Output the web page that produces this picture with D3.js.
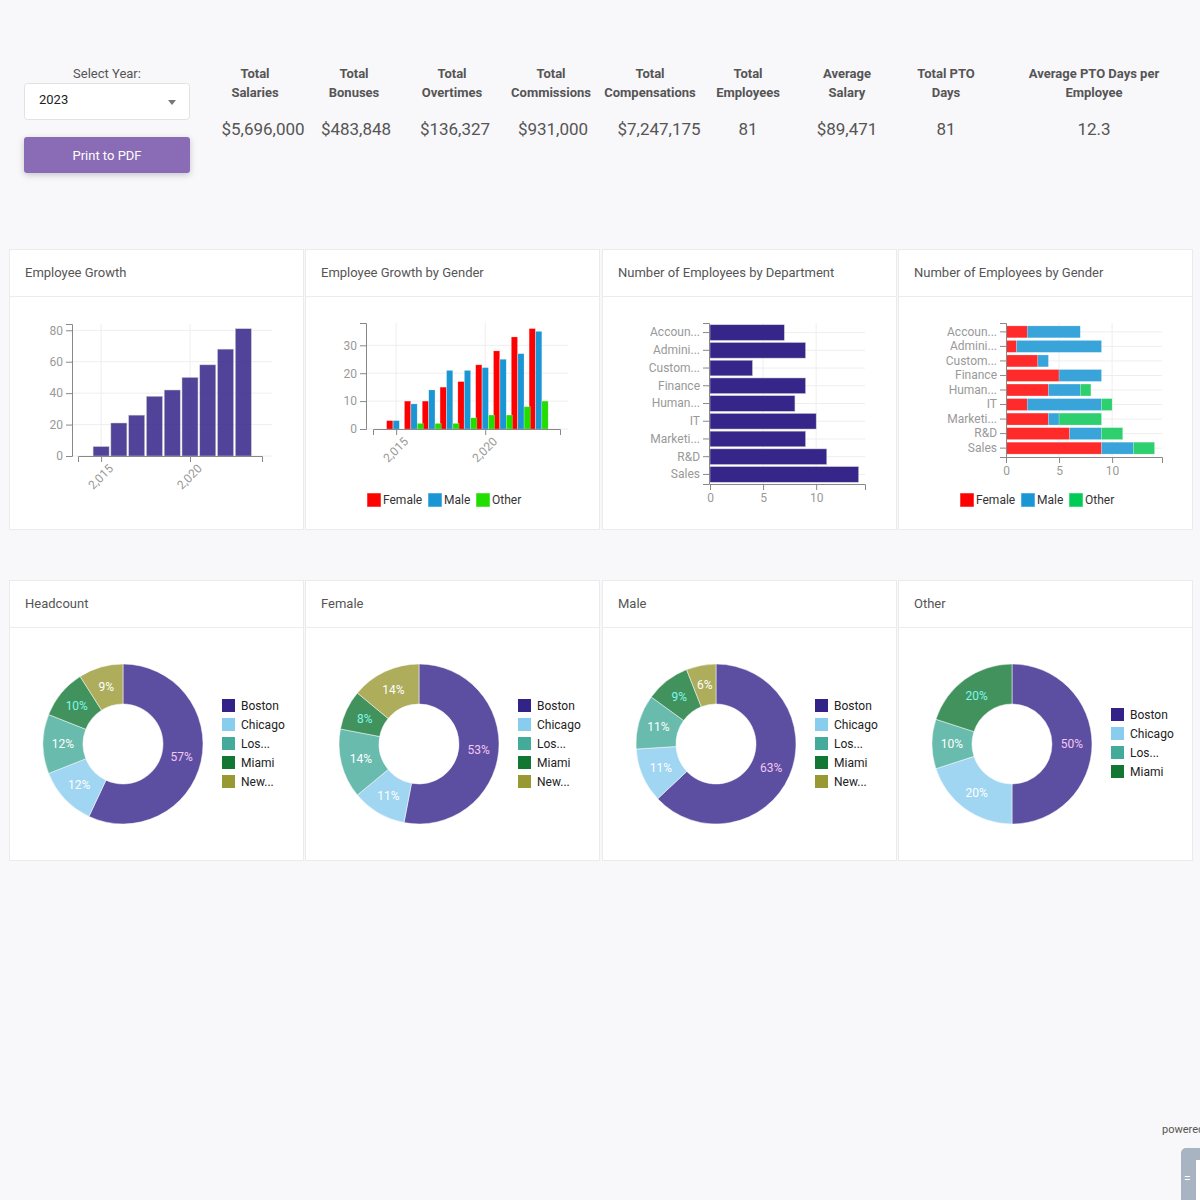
<!DOCTYPE html>
<html><head><meta charset="utf-8">
<script src="https://cdn.jsdelivr.net/npm/d3@7"></script>
<style>
body{margin:0;background:#f8f7fa;font-family:Roboto,"Open Sans",sans-serif;}
svg text{font-family:Roboto,"Liberation Sans",sans-serif;}
</style></head>
<body>
<svg id="dash" width="1200" height="1200"></svg>
<script>
// ---- data ----
var kpiLabels = [["Total","Salaries"],["Total","Bonuses"],["Total","Overtimes"],["Total","Commissions"],["Total","Compensations"],["Total","Employees"],["Average","Salary"],["Total PTO","Days"],["Average PTO Days per","Employee"]];
var kpiValues = ["$5,696,000","$483,848","$136,327","$931,000","$7,247,175","81","$89,471","81","12.3"];
var kpiX = [255,354,452,551,650,748,847,946,1094];
var kpiValueX = [263,356,455,553,659,748,847,946,1094];

var years = [2015,2016,2017,2018,2019,2020,2021,2022,2023];
var headcountByYear = [6,21,26,38,42,50,58,68,81];
var femaleByYear = [3,10,10,15,17,23,28,33,36];
var maleByYear = [3,9,14,21,21,22,25,27,35];
var otherByYear = [0,2,2,2,4,5,5,8,10];

var departments = ["Accoun...","Admini...","Custom...","Finance","Human...","IT","Marketi...","R&D","Sales"];
var deptCount = [7,9,4,9,8,10,9,11,14];
var deptFemale = [2,1,3,5,4,2,4,6,9];
var deptMale = [5,8,1,4,3,7,1,3,3];
var deptOther = [0,0,0,0,1,1,4,2,2];

var cities = ["Boston","Chicago","Los...","Miami","New..."];
var cityColors = ["#332288","#88ccee","#44aa99","#117733","#999933"];
var headcountPct = [57,12,12,10,9];
var femalePct = [53,11,14,8,14];
var malePct = [63,11,11,9,6];
var otherPct = [50,20,10,20];

var svg = d3.select("#dash");
var grey = "#999", axisCol = "#888";

// ---- header ----
var ctrl = svg.append("g");
ctrl.append("text").attr("x",107).attr("y",78).attr("text-anchor","middle").attr("font-size",13).attr("fill","#555").text("Select Year:");
ctrl.append("rect").attr("x",24.5).attr("y",83.5).attr("width",165).attr("height",36).attr("rx",3).attr("fill","#fff").attr("stroke","#e2e2e2");
ctrl.append("text").attr("x",39).attr("y",104).attr("font-size",13).attr("fill","#222").text("2023");
ctrl.append("path").attr("d","M168,100 l8,0 l-4,5z").attr("fill","#777");
ctrl.append("rect").attr("x",24).attr("y",137).attr("width",166).attr("height",36).attr("rx",3).attr("fill","#8a6bb6").style("filter","drop-shadow(0 2px 3px rgba(0,0,0,0.2))");
ctrl.append("text").attr("x",107).attr("y",160).attr("text-anchor","middle").attr("font-size",13).attr("fill","#fff").text("Print to PDF");

kpiLabels.forEach(function(l,i){
  var g = svg.append("g").attr("transform","translate("+kpiX[i]+",0)");
  g.append("text").attr("y",78).attr("text-anchor","middle").attr("font-size",13).attr("font-weight","bold").attr("fill","#555").text(l[0]);
  g.append("text").attr("y",97).attr("text-anchor","middle").attr("font-size",13).attr("font-weight","bold").attr("fill","#555").text(l[1]);
  svg.append("text").attr("x",kpiValueX[i]).attr("y",135).attr("text-anchor","middle").attr("font-size",17).attr("fill","#555").text(kpiValues[i]);
});

// ---- cards ----
function card(x,y,title){
  var g = svg.append("g");
  g.append("rect").attr("x",x+0.5).attr("y",y+0.5).attr("width",294).attr("height",280).attr("fill","#fff").attr("stroke","#ebebeb");
  g.append("line").attr("x1",x+1).attr("x2",x+294).attr("y1",y+47.5).attr("y2",y+47.5).attr("stroke","#ececec");
  g.append("text").attr("x",x+16).attr("y",y+28).attr("font-size",13).attr("fill","#555").text(title);
}
card(9,249,"Employee Growth");
card(305,249,"Employee Growth by Gender");
card(602,249,"Number of Employees by Department");
card(898,249,"Number of Employees by Gender");
card(9,580,"Headcount");
card(305,580,"Female");
card(602,580,"Male");
card(898,580,"Other");

function styleAxis(g){
  g.selectAll("path,line").attr("stroke",axisCol);
  g.selectAll("text").attr("fill",grey).attr("font-size",12);
}
var yearFmt = d3.format(",");
function rotateTicks(xa){
  xa.selectAll("text").attr("text-anchor","end").attr("transform","translate(3,4) rotate(-45)").attr("dy","0.35em").attr("y",9);
}

// ---- chart 1: employee growth ----
(function(){
  var x = d3.scaleLinear().domain([2013.7,2024.05]).range([78,262]);
  var y = d3.scaleLinear().domain([0,84]).range([456,324]);
  var g = svg.append("g");
  g.selectAll(".hg").data([0,20,40,60,80]).enter().append("line").attr("x1",72).attr("x2",272).attr("y1",d=>y(d)).attr("y2",d=>y(d)).attr("stroke","#eee");
  g.selectAll(".vg").data([2015,2020]).enter().append("line").attr("x1",d=>x(d)).attr("x2",d=>x(d)).attr("y1",324).attr("y2",456).attr("stroke","#eee");
  g.selectAll(".bar").data(years).enter().append("rect")
    .attr("x",d=>x(d)-8).attr("width",16).attr("y",(d,i)=>y(headcountByYear[i])).attr("height",(d,i)=>456-y(headcountByYear[i]))
    .attr("fill","#332288").attr("fill-opacity",0.85).attr("stroke","#ccc").attr("stroke-width",0.5);
  var ya = g.append("g").attr("transform","translate(72,0)").call(d3.axisLeft(y).tickValues([0,20,40,60,80]).tickSize(6)); styleAxis(ya);
  var xa = g.append("g").attr("transform","translate(0,456)").call(d3.axisBottom(x).tickValues([2015,2020]).tickFormat(yearFmt).tickSize(6)); styleAxis(xa);
  rotateTicks(xa);
})();

// ---- chart 2: growth by gender ----
(function(){
  var x = d3.scaleLinear().domain([2013.7,2024.2]).range([373,560]);
  var y = d3.scaleLinear().domain([0,38]).range([429,323]);
  var g = svg.append("g");
  g.selectAll(".hg").data([0,10,20,30]).enter().append("line").attr("x1",366).attr("x2",568).attr("y1",d=>y(d)).attr("y2",d=>y(d)).attr("stroke","#eee");
  g.selectAll(".vg").data([2015,2020]).enter().append("line").attr("x1",d=>x(d)).attr("x2",d=>x(d)).attr("y1",323).attr("y2",429).attr("stroke","#eee");
  var series = [[femaleByYear,"#ff0000",-9.5],[maleByYear,"#1a96d4",-3],[otherByYear,"#22dd00",3.3]];
  series.forEach(function(s){
    g.selectAll(null).data(years).enter().append("rect")
      .attr("x",d=>x(d)+s[2]).attr("width",6.2).attr("y",(d,i)=>y(s[0][i])).attr("height",(d,i)=>429-y(s[0][i]))
      .attr("fill",s[1]).attr("stroke","#fff").attr("stroke-opacity",0.4).attr("stroke-width",0.5);
  });
  var ya = g.append("g").attr("transform","translate(366,0)").call(d3.axisLeft(y).tickValues([0,10,20,30]).tickSize(6)); styleAxis(ya);
  var xa = g.append("g").attr("transform","translate(0,429)").call(d3.axisBottom(x).tickValues([2015,2020]).tickFormat(yearFmt).tickSize(6)); styleAxis(xa);
  rotateTicks(xa);
  legend(g,367,493,["Female","Male","Other"],["#ff0000","#1a96d4","#22dd00"],[0,61,109]);
})();

function legend(g,x0,y0,names,cols,offs){
  names.forEach(function(n,i){
    g.append("rect").attr("x",x0+offs[i]).attr("y",y0).attr("width",14).attr("height",14).attr("fill",cols[i]).attr("stroke","#fff").attr("stroke-opacity",0.5);
    g.append("text").attr("x",x0+offs[i]+16).attr("y",y0+11).attr("font-size",12).attr("fill","#333").text(n);
  });
}

// ---- chart 3: by department ----
(function(){
  var x = d3.scaleLinear().domain([0,14.6]).range([710,865]);
  var y = d3.scaleBand().domain(departments).range([323,484]).paddingInner(0.12).paddingOuter(0.1);
  var g = svg.append("g");
  g.selectAll(".vg").data([5,10]).enter().append("line").attr("x1",d=>x(d)).attr("x2",d=>x(d)).attr("y1",323).attr("y2",484).attr("stroke","#eee");
  g.selectAll(".hg").data(departments).enter().append("line").attr("x1",710).attr("x2",865).attr("y1",d=>y(d)+y.bandwidth()/2).attr("y2",d=>y(d)+y.bandwidth()/2).attr("stroke","#eee");
  g.selectAll(".bar").data(departments).enter().append("rect")
    .attr("x",710).attr("y",d=>y(d)).attr("height",y.bandwidth()).attr("width",(d,i)=>x(deptCount[i])-710)
    .attr("fill","#332288").attr("fill-opacity",0.98).attr("stroke","#ccc").attr("stroke-width",0.5);
  var ya = g.append("g").attr("transform","translate(709,0)").call(d3.axisLeft(y).tickSize(6)); styleAxis(ya);
  var xa = g.append("g").attr("transform","translate(0,484)").call(d3.axisBottom(x).tickValues([0,5,10]).tickSize(6)); styleAxis(xa);
})();

// ---- chart 4: department by gender ----
(function(){
  var x = d3.scaleLinear().domain([0,14.7]).range([1006,1162]);
  var y = d3.scaleBand().domain(departments).range([323,457]).paddingInner(0.18).paddingOuter(0.2);
  var g = svg.append("g");
  g.selectAll(".vg").data([5,10]).enter().append("line").attr("x1",d=>x(d)).attr("x2",d=>x(d)).attr("y1",323).attr("y2",457).attr("stroke","#eee");
  g.selectAll(".hg").data(departments).enter().append("line").attr("x1",1006).attr("x2",1162).attr("y1",d=>y(d)+y.bandwidth()/2).attr("y2",d=>y(d)+y.bandwidth()/2).attr("stroke","#eee");
  var stack = d3.stack().keys(["f","m","o"])(departments.map((d,i)=>({d:d,f:deptFemale[i],m:deptMale[i],o:deptOther[i]})));
  var cols = ["#ff2020","#2d9fd8","#22cc66"];
  stack.forEach(function(s,k){
    g.selectAll(null).data(s).enter().append("rect")
      .attr("x",d=>x(d[0])).attr("width",d=>x(d[1])-x(d[0])).attr("y",d=>y(d.data.d)).attr("height",y.bandwidth())
      .attr("fill",cols[k]).attr("fill-opacity",0.95).attr("stroke","#fff").attr("stroke-opacity",0.4).attr("stroke-width",0.5);
  });
  var ya = g.append("g").attr("transform","translate(1006,0)").call(d3.axisLeft(y).tickSize(6)); styleAxis(ya);
  var xa = g.append("g").attr("transform","translate(0,457)").call(d3.axisBottom(x).tickValues([0,5,10]).tickSize(6)); styleAxis(xa);
  legend(g,960,493,["Female","Male","Other"],["#ff0000","#1a96d4","#00cc55"],[0,61,109]);
})();

// ---- donuts ----
var labelCols = ["#f4c6f4","#ffffff","#ffffff","#7ff7ef","#ffffff"];
function donut(cx,cy,vals,lx,ly){
  var g = svg.append("g").attr("transform","translate("+cx+","+cy+")");
  var pie = d3.pie().sort(null)(vals);
  var arc = d3.arc().innerRadius(40).outerRadius(80);
  var lab = d3.arc().innerRadius(60).outerRadius(60);
  g.selectAll("path").data(pie).enter().append("path").attr("d",arc)
    .attr("fill",(d,i)=>cityColors[i]).attr("fill-opacity",0.8).attr("stroke","#fff").attr("stroke-width",0.5);
  g.selectAll("text").data(pie).enter().append("text")
    .attr("transform",d=>"translate("+lab.centroid(d)+")").attr("text-anchor","middle").attr("dy","0.35em")
    .attr("font-size",12).attr("fill",(d,i)=>labelCols[i]).text(d=>d.data+"%");
  var lg = svg.append("g");
  vals.forEach(function(v,i){
    lg.append("rect").attr("x",lx).attr("y",ly+i*19).attr("width",13).attr("height",13).attr("fill",cityColors[i]);
    lg.append("text").attr("x",lx+19).attr("y",ly+i*19+11).attr("font-size",12).attr("fill","#222").text(cities[i]);
  });
}
donut(123,744,headcountPct,222,699);
donut(419,744,femalePct,518,699);
donut(716,744,malePct,815,699);
donut(1012,744,otherPct,1111,708);

svg.append("text").attr("x",1162).attr("y",1133).attr("font-size",11).attr("fill","#555").text("powered");
svg.append("rect").attr("x",1181).attr("y",1148).attr("width",30).attr("height",60).attr("rx",5).attr("fill","#a9b4c2");
svg.append("rect").attr("x",1196).attr("y",1160).attr("width",6).attr("height",40).attr("fill","#fff");
svg.append("text").attr("x",1184).attr("y",1183).attr("font-size",12).attr("fill","#fff").text("=");
</script>
</body></html>
